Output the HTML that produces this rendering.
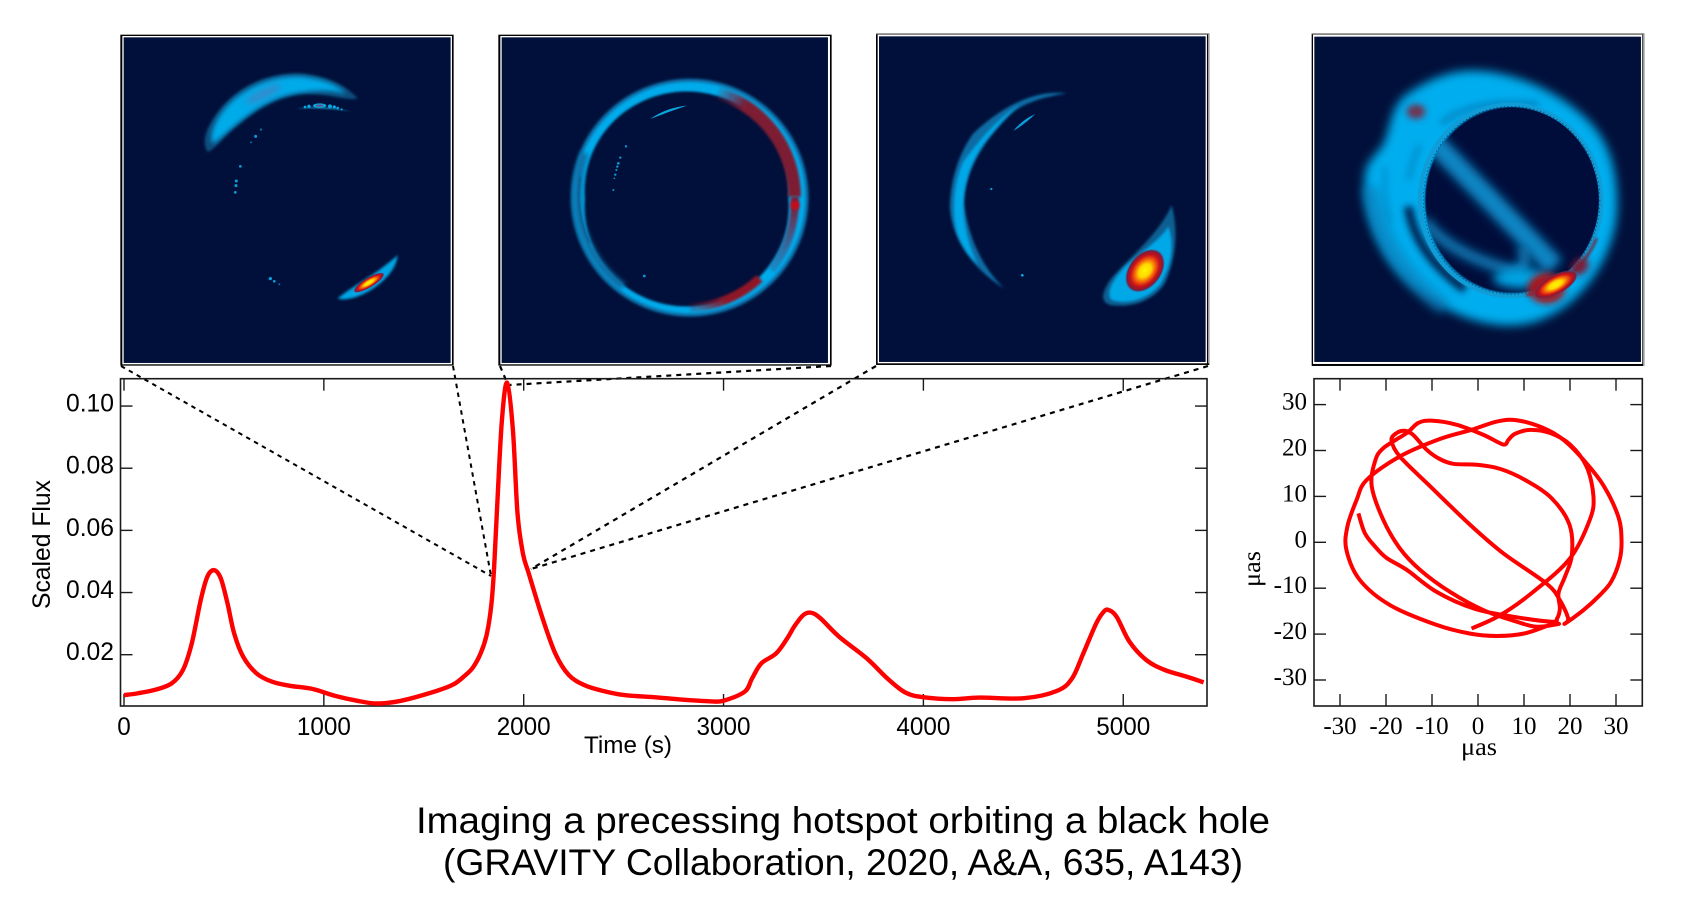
<!DOCTYPE html>
<html lang="en">
<head>
<meta charset="utf-8">
<title>Imaging a precessing hotspot orbiting a black hole</title>
<style>
html,body{margin:0;padding:0;background:#fff;}
svg{display:block;}
.sans{font-family:"Liberation Sans",sans-serif;fill:#000;}
.serif{font-family:"Liberation Serif",serif;fill:#000;}
</style>
</head>
<body>
<svg id="figure" xmlns="http://www.w3.org/2000/svg" width="1700" height="923" viewBox="0 0 1700 923">
<defs>
<filter id="b2" filterUnits="userSpaceOnUse" x="0" y="0" width="1035" height="1035"><feGaussianBlur stdDeviation="2"/></filter>
<filter id="b4" filterUnits="userSpaceOnUse" x="0" y="0" width="1035" height="1035"><feGaussianBlur stdDeviation="4"/></filter>
<filter id="b7" filterUnits="userSpaceOnUse" x="0" y="0" width="1035" height="1035"><feGaussianBlur stdDeviation="7"/></filter>
<filter id="b10" filterUnits="userSpaceOnUse" x="0" y="0" width="1035" height="1035"><feGaussianBlur stdDeviation="10"/></filter>
<filter id="b14" filterUnits="userSpaceOnUse" x="0" y="0" width="1035" height="1035"><feGaussianBlur stdDeviation="14"/></filter>
<radialGradient id="hot">
<stop offset="0" stop-color="#fff600"/>
<stop offset="0.3" stop-color="#ffd800"/>
<stop offset="0.52" stop-color="#f4600c"/>
<stop offset="0.72" stop-color="#c81018"/>
<stop offset="0.9" stop-color="#7c1c3c"/>
<stop offset="1" stop-color="#2a6ea8" stop-opacity="0"/>
</radialGradient>
<linearGradient id="fadeTop" gradientUnits="userSpaceOnUse" x1="665" y1="180" x2="760" y2="225">
<stop offset="0" stop-color="#7a1c38" stop-opacity="0"/>
<stop offset="1" stop-color="#7d1a32"/>
</linearGradient>
<linearGradient id="fadeRight" gradientUnits="userSpaceOnUse" x1="905" y1="520" x2="840" y2="720">
<stop offset="0" stop-color="#7a1c38"/>
<stop offset="1" stop-color="#2c6aa6" stop-opacity="0.5"/>
</linearGradient>
<linearGradient id="fadeBottom" gradientUnits="userSpaceOnUse" x1="570" y1="830" x2="700" y2="805">
<stop offset="0" stop-color="#8a1528" stop-opacity="0"/>
<stop offset="1" stop-color="#8f1426"/>
</linearGradient>
<clipPath id="inner1"><rect x="26" y="22" width="981" height="977"/></clipPath>
<clipPath id="hole4"><ellipse cx="622" cy="510" rx="262" ry="280"/></clipPath>
</defs>

<!-- Panel 1 -->
<g transform="translate(115 30) scale(0.3333)">
<rect x="16" y="14" width="1000" height="993" fill="#000"/>
<rect x="22" y="18" width="989" height="985" fill="#fff"/>
<rect x="26" y="22" width="981" height="977" fill="#01103a"/>
<g clip-path="url(#inner1)">
<path d="M278 366C260 340 268 305 300 258C345 190 430 132 540 130C620 130 695 165 728 205C700 214 650 192 565 192C470 200 410 250 345 305C320 328 300 358 278 366Z" fill="#074c7c" filter="url(#b4)"/>
<path d="M292 340C282 310 305 258 350 215C405 165 480 136 560 140C620 146 672 165 692 192C650 180 610 180 560 187C470 197 405 248 345 298C325 315 305 335 292 340Z" fill="#03abea" filter="url(#b7)"/>
<ellipse cx="445" cy="192" rx="60" ry="12" transform="rotate(-26 445 192)" fill="#3a86c8" filter="url(#b10)"/>
<path d="M545 237Q615 222 710 245Q615 232 545 237Z" fill="#0a78ae" filter="url(#b2)"/>
<g fill="#07a7e2">
<circle cx="570" cy="231" r="4"/><circle cx="582" cy="229" r="5"/><circle cx="645" cy="229" r="6"/><circle cx="658" cy="231" r="5"/><circle cx="668" cy="234" r="4"/><circle cx="680" cy="238" r="3"/>
</g>
<ellipse cx="614" cy="227" rx="20" ry="7" fill="#07a7e2"/>
<ellipse cx="614" cy="227" rx="12" ry="3.5" fill="#5c5a8e"/>
<g fill="#07a0dc">
<circle cx="438" cy="299" r="3.5" fill="#0a6ca3"/><circle cx="422" cy="319" r="4.5"/><circle cx="408" cy="337" r="3" fill="#0a6ca3"/><circle cx="376" cy="409" r="4"/><circle cx="364" cy="453" r="4.5"/><circle cx="363" cy="467" r="4.5"/><circle cx="361" cy="487" r="4"/><circle cx="466" cy="746" r="5"/><circle cx="478" cy="754" r="4"/><circle cx="493" cy="763" r="3" fill="#0a6ca3"/>
</g>
<path d="M668 806C705 772 775 740 848 676C845 720 800 765 750 790C720 805 690 812 668 806Z" fill="#05a4e4" filter="url(#b4)"/>
<ellipse cx="762" cy="758" rx="54" ry="15" transform="rotate(-31 762 758)" fill="url(#hot)"/>
</g>
</g>

<!-- Panel 2 -->
<g transform="translate(493 30) scale(0.3333)">
<rect x="16" y="14" width="1000" height="993" fill="#000"/>
<rect x="22" y="18" width="989" height="985" fill="#fff"/>
<rect x="26" y="22" width="979" height="977" fill="#01103a"/>
<path fill-rule="evenodd" d="M233 503A357 357 0 1 0 947 503A357 357 0 1 0 233 503ZM272 507A310 302 0 1 1 890 507A310 302 0 1 1 272 507Z" fill="#0a6ea8" filter="url(#b4)"/>
<path fill-rule="evenodd" d="M243 503A347 347 0 1 0 937 503A347 347 0 1 0 243 503ZM275 507A307 299 0 1 1 887 507A307 299 0 1 1 275 507Z" fill="#02abeb" filter="url(#b4)"/>
<path d="M275 370A325 330 0 0 0 255 480A325 330 0 0 0 390 770" fill="none" stroke="#0a6ea6" stroke-width="24" filter="url(#b7)"/>
<path d="M262 440A325 330 0 0 0 290 640" fill="none" stroke="#0a4f84" stroke-width="3" filter="url(#b2)"/>
<path d="M675 190A322 325 0 0 1 905 500" fill="none" stroke="url(#fadeTop)" stroke-width="38" filter="url(#b4)"/>
<path d="M905 500A322 325 0 0 1 835 720" fill="none" stroke="url(#fadeRight)" stroke-width="24" filter="url(#b4)"/>
<path d="M800 745A322 325 0 0 1 590 832" fill="none" stroke="url(#fadeBottom)" stroke-width="26" filter="url(#b4)"/>
<circle cx="906" cy="526" r="14" fill="#c40c1c" filter="url(#b4)"/>
<path d="M472 267Q520 233 582 227Q525 246 472 267Z" fill="#0aa6e0"/>
<g fill="#079bd8">
<circle cx="399" cy="349" r="3.5"/><circle cx="382" cy="383" r="3.5"/><circle cx="376" cy="400" r="4"/><circle cx="373" cy="410" r="3.5"/><circle cx="370" cy="420" r="3"/><circle cx="367" cy="434" r="3.5"/><circle cx="364" cy="445" r="2.5"/><circle cx="361" cy="480" r="3"/><circle cx="454" cy="738" r="4"/>
</g>
</g>

<!-- Panel 3 -->
<g transform="translate(870 30) scale(0.3333)">
<rect x="18" y="10" width="1000" height="995" fill="#000"/>
<rect x="18" y="10" width="1000" height="3" fill="#9a9a9a"/>
<rect x="1014" y="10" width="4" height="990" fill="#9a9a9a"/>
<rect x="23" y="14" width="988" height="986" fill="#fff"/>
<rect x="27" y="19" width="980" height="977" fill="#01103a"/>
<path d="M590 190C500 178 400 225 310 310C255 385 238 480 240 540C250 640 320 725 402 775C340 715 295 625 282 520C284 410 360 310 430 245C480 210 540 198 590 190Z" fill="#0a6ca4" filter="url(#b4)"/>
<path d="M450 225C400 250 335 320 280 395C250 460 244 550 262 610C280 660 310 690 325 705C300 660 280 590 280 520C284 430 320 360 370 305C395 275 420 248 450 225Z" fill="#03a8e8" filter="url(#b4)"/>
<path d="M430 303Q455 270 496 252Q465 282 430 303Z" fill="#0a9fdc"/>
<circle cx="364" cy="477" r="3.5" fill="#079bd8"/>
<circle cx="457" cy="736" r="4" fill="#07b0ee"/>
<path d="M905 525C922 590 925 670 885 760C850 815 780 835 720 825C690 815 695 790 720 750C770 690 870 610 905 525Z" fill="#0a5e92" filter="url(#b4)"/>
<path d="M895 590C915 640 905 710 870 765C830 810 770 825 725 810C705 790 730 745 770 705C815 665 870 630 895 590Z" fill="#05a8e8" filter="url(#b4)"/>
<ellipse cx="825" cy="722" rx="74" ry="50" transform="rotate(-52 825 722)" fill="url(#hot)"/>
</g>

<!-- Panel 4 -->
<g transform="translate(1305 30) scale(0.3333)">
<rect x="20" y="10" width="998" height="998" fill="#000"/>
<rect x="20" y="10" width="998" height="3" fill="#9a9a9a"/>
<rect x="1014" y="10" width="4" height="998" fill="#9a9a9a"/>
<rect x="24" y="14" width="988" height="988" fill="#fff"/>
<rect x="28" y="20" width="980" height="976" fill="#01103a"/>
<path d="M500 122C625 122 770 185 860 282C930 360 942 470 935 560C918 708 800 870 640 885C500 898 342 808 262 705C202 622 170 520 180 430C188 388 218 372 236 340C258 290 256 238 298 198C350 162 420 122 500 122Z" fill="#02adee" filter="url(#b14)"/>
<path d="M195 470Q225 690 420 835" fill="none" stroke="#0a78b4" stroke-width="50" opacity="0.6" filter="url(#b14)"/>
<path d="M240 410Q236 510 258 580" fill="none" stroke="#0a78b4" stroke-width="12" opacity="0.55" filter="url(#b10)"/>
<path d="M410 280Q500 205 700 222" fill="none" stroke="#0a6aa6" stroke-width="14" opacity="0.7" filter="url(#b10)"/>
<path d="M345 345Q320 390 312 450" fill="none" stroke="#0a6aa6" stroke-width="14" opacity="0.5" filter="url(#b10)"/>
<path d="M310 530Q330 670 480 778" fill="none" stroke="#02214f" stroke-width="26" filter="url(#b10)"/>
<ellipse cx="622" cy="510" rx="262" ry="280" fill="#01103a" filter="url(#b2)"/>
<g clip-path="url(#hole4)">
<line x1="385" y1="335" x2="750" y2="710" stroke="#0a86c4" stroke-width="62" filter="url(#b14)"/>
<path d="M355 570Q430 670 620 722Q680 722 650 650" fill="none" stroke="#0a78b4" stroke-width="34" filter="url(#b14)"/>
<ellipse cx="650" cy="745" rx="85" ry="30" fill="#05a4e4" filter="url(#b14)"/>
</g>
<ellipse cx="617" cy="511" rx="272" ry="287" fill="none" stroke="#129cd6" stroke-width="13"/>
<ellipse cx="620" cy="511" rx="265" ry="282" fill="none" stroke="#01103a" stroke-width="2" stroke-dasharray="4 7" opacity="0.7"/>
<path d="M875 625A272 287 0 0 1 665 795" fill="none" stroke="#7a1a30" stroke-width="7" filter="url(#b4)"/>
<ellipse cx="333" cy="245" rx="28" ry="22" fill="#70304f" filter="url(#b10)"/>
<ellipse cx="725" cy="775" rx="56" ry="46" fill="#a8141e" filter="url(#b10)"/>
<ellipse cx="825" cy="710" rx="30" ry="22" transform="rotate(-45 825 710)" fill="#7a1c38" filter="url(#b10)"/>
<ellipse cx="752" cy="764" rx="74" ry="30" transform="rotate(-28 752 764)" fill="url(#hot)"/>
</g>

<g id="connectors" fill="none" stroke="#000">
<line x1="121" y1="366" x2="491" y2="576" stroke-width="2" stroke-dasharray="4.5 4.5"/>
<line x1="453" y1="366" x2="491" y2="576" stroke-width="2" stroke-dasharray="4.5 4.5"/>
<line x1="500" y1="366" x2="508" y2="385" stroke-width="2.2" stroke-dasharray="5 5"/>
<line x1="831" y1="366" x2="509" y2="385" stroke-width="2.2" stroke-dasharray="5 5"/>
<line x1="876" y1="366" x2="531" y2="569" stroke-width="2.2" stroke-dasharray="5 5"/>
<line x1="1208" y1="366" x2="531" y2="569" stroke-width="2.2" stroke-dasharray="5 5"/>
</g>

<g id="flux-plot"></g>
<g id="orbit-plot"></g>

<text class="sans" x="843" y="833" font-size="37" text-anchor="middle" textLength="854" lengthAdjust="spacingAndGlyphs">Imaging a precessing hotspot orbiting a black hole</text>
<text class="sans" x="843" y="875" font-size="37" text-anchor="middle" textLength="800" lengthAdjust="spacingAndGlyphs">(GRAVITY Collaboration, 2020, A&amp;A, 635, A143)</text>
</svg>

<script>
const timeTicks = [0, 1000, 2000, 3000, 4000, 5000];
const timeTickLabels = ['0', '1000', '2000', '3000', '4000', '5000'];
const fluxTicks = [0.02, 0.04, 0.06, 0.08, 0.10];
const fluxTickLabels = ['0.02', '0.04', '0.06', '0.08', '0.10'];
const muasTicks = [-30, -20, -10, 0, 10, 20, 30];
const muasTickLabels = ['-30', '-20', '-10', '0', '10', '20', '30'];

const fluxTime = [0,71,161,239,295,339,384,417,451,484,518,551,596,663,741,830,942,1054,1165,1266,1388,1567,1650,1701,1745,1785,1815,1838,1852,1868,1891,1917,1946,1969,1996,2025,2092,2158,2225,2304,2393,2504,2661,2781,2930,3000,3106,3143,3189,3263,3319,3355,3400,3439,3485,3578,3717,3819,3911,4004,4152,4281,4504,4670,4744,4800,4865,4902,4926,4967,5031,5115,5207,5319,5402];
const fluxValue = [0.007,0.0076,0.0088,0.0108,0.0151,0.0236,0.0376,0.0451,0.0472,0.0446,0.0365,0.0269,0.0194,0.014,0.0113,0.01,0.009,0.0068,0.0052,0.0043,0.0052,0.0084,0.0105,0.013,0.0158,0.0205,0.0265,0.036,0.048,0.0687,0.0955,0.1075,0.0923,0.0655,0.0526,0.0462,0.0322,0.0204,0.0135,0.0102,0.0084,0.007,0.0063,0.0056,0.005,0.0052,0.0081,0.0124,0.0172,0.0204,0.0253,0.0292,0.0328,0.0335,0.0317,0.0258,0.0188,0.0124,0.0078,0.0063,0.0057,0.0062,0.006,0.0084,0.0124,0.0204,0.0301,0.0338,0.0344,0.0322,0.0242,0.0183,0.0151,0.0129,0.0111];

const orbitX = [-26.0,-24.6,-22.4,-19.9,-15.5,-9.0,-1.0,7.0,16.0,17.2,17.8,17.5,18.9,20.4,19.9,16.0,10.2,4.8,-0.3,-5.4,-8.6,-11.2,-14.1,-15.9,-17.7,-18.8,-17.0,-10.4,-1.7,5.5,14.9,17.8,19.6,18.9,22.9,26.5,29.0,30.8,31.2,30.5,27.2,22.9,18.6,14.2,8.4,4.1,-1.4,-8.3,-17.0,-24.2,-26.4,-28.4,-28.6,-25.7,-19.1,-9.0,-1.7,4.1,9.9,15.7,17.5,12.8,8.4,1.2,-6.1,-12.6,-17.0,-20.6,-23.1,-22.4,-20.6,-15.5,-13.0,-10.1,-4.6,1.2,5.5,6.6,8.0,11.3,15.7,20.0,23.6,25.1,24.3,20.0,12.0,4.8,-1.4];
const orbitY = [6.3,2.0,-0.9,-3.4,-6.0,-10.8,-14.4,-16.1,-17.3,-16.6,-14.4,-11.1,-7.5,-2.8,3.8,9.6,13.6,16.0,16.9,17.1,18.3,20.2,23.4,24.3,23.8,22.2,18.7,12.2,3.8,-2.4,-9.0,-12.6,-16.6,-17.7,-14.8,-11.5,-8.5,-3.8,0.5,5.6,12.5,18.0,22.3,24.9,26.6,26.3,24.5,22.5,18.7,13.6,9.2,3.4,-1.7,-8.2,-13.7,-18.0,-19.9,-20.4,-19.9,-18.0,-17.8,-18.4,-17.3,-14.8,-10.8,-6.0,-1.3,4.9,12.2,17.6,20.5,23.8,26.0,26.5,25.6,23.4,21.3,22.3,23.6,24.5,23.8,21.3,16.5,10.0,4.9,-3.5,-10.8,-15.9,-18.8];

const NS = 'http://www.w3.org/2000/svg';

function xTime(t) { return 124 + 0.19985 * t; }
function yFlux(v) { return 654.7 - (v - 0.02) * 3108; }
function xMuas(v) { return 1478 + 4.6 * v; }
function yMuas(v) { return 542.3 - 4.59 * v; }

function make(tag, attrs, parent) {
  const el = document.createElementNS(NS, tag);
  for (const k in attrs) el.setAttribute(k, attrs[k]);
  parent.appendChild(el);
  return el;
}

function smoothPath(pts) {
  let d = 'M' + pts[0][0].toFixed(2) + ' ' + pts[0][1].toFixed(2);
  for (let i = 0; i < pts.length - 1; i++) {
    const p0 = pts[Math.max(i - 1, 0)];
    const p1 = pts[i];
    const p2 = pts[i + 1];
    const p3 = pts[Math.min(i + 2, pts.length - 1)];
    const c1x = p1[0] + (p2[0] - p0[0]) / 6;
    const c1y = p1[1] + (p2[1] - p0[1]) / 6;
    const c2x = p2[0] - (p3[0] - p1[0]) / 6;
    const c2y = p2[1] - (p3[1] - p1[1]) / 6;
    d += 'C' + c1x.toFixed(2) + ' ' + c1y.toFixed(2) + ' ' + c2x.toFixed(2) + ' ' + c2y.toFixed(2) + ' ' + p2[0].toFixed(2) + ' ' + p2[1].toFixed(2);
  }
  return d;
}

const fluxGroup = document.getElementById('flux-plot');
const orbitGroup = document.getElementById('orbit-plot');

/* Flux plot */
const fluxLeft = 120.5, fluxRight = 1207, plotTop = 378.7, plotBottom = 706, tickLen = 12;

const fluxFrame = make('rect', {x: fluxLeft, y: plotTop, width: fluxRight - fluxLeft, height: plotBottom - plotTop, fill: 'none', stroke: '#1a1a1a', 'stroke-width': 1.6}, fluxGroup);



timeTicks.forEach(function (t, i) {
  const x = xTime(t);
  const top = make('line', {x1: x, x2: x, y1: plotTop, y2: plotTop + tickLen, stroke: '#1a1a1a', 'stroke-width': 1.4}, fluxGroup);
  
  
  const bottom = make('line', {x1: x, x2: x, y1: plotBottom, y2: plotBottom - tickLen, stroke: '#1a1a1a', 'stroke-width': 1.4}, fluxGroup);
  
  
  const lab = make('text', {x: x, y: 735, 'font-size': 25, 'text-anchor': 'middle', class: 'sans', textLength: 13.5 * timeTickLabels[i].length, lengthAdjust: 'spacingAndGlyphs'}, fluxGroup);
  lab.textContent = timeTickLabels[i];
  
  
});

fluxTicks.forEach(function (v, i) {
  const y = yFlux(v);
  const left = make('line', {x1: fluxLeft, x2: fluxLeft + tickLen, y1: y, y2: y, stroke: '#1a1a1a', 'stroke-width': 1.4}, fluxGroup);
  
  
  const right = make('line', {x1: fluxRight, x2: fluxRight - tickLen, y1: y, y2: y, stroke: '#1a1a1a', 'stroke-width': 1.4}, fluxGroup);
  
  
  const lab = make('text', {x: 114, y: y + 5.5, 'font-size': 25, 'text-anchor': 'end', class: 'sans', textLength: 48, lengthAdjust: 'spacingAndGlyphs'}, fluxGroup);
  lab.textContent = fluxTickLabels[i];
  
  
});

const fluxLine = make('path', {d: smoothPath(fluxTime.map(function (t, i) { return [xTime(t), yFlux(fluxValue[i])]; })), fill: 'none', stroke: '#ff0000', 'stroke-width': 4.4, 'stroke-linejoin': 'round'}, fluxGroup);



const timeTitle = make('text', {x: 628, y: 753, 'font-size': 24, 'text-anchor': 'middle', class: 'sans', textLength: 88, lengthAdjust: 'spacingAndGlyphs'}, fluxGroup);
timeTitle.textContent = 'Time (s)';



const fluxTitle = make('text', {transform: 'translate(50 544.5) rotate(-90)', 'font-size': 25, 'text-anchor': 'middle', class: 'sans', textLength: 129, lengthAdjust: 'spacingAndGlyphs'}, fluxGroup);
fluxTitle.textContent = 'Scaled Flux';



/* Orbit plot */
const orbitLeft = 1314, orbitRight = 1642.3;

const orbitFrame = make('rect', {x: orbitLeft, y: plotTop, width: orbitRight - orbitLeft, height: plotBottom - plotTop, fill: 'none', stroke: '#1a1a1a', 'stroke-width': 1.6}, orbitGroup);



muasTicks.forEach(function (v, i) {
  const x = xMuas(v);
  const y = yMuas(v);
  const top = make('line', {x1: x, x2: x, y1: plotTop, y2: plotTop + tickLen, stroke: '#1a1a1a', 'stroke-width': 1.4}, orbitGroup);
  
  
  const bottom = make('line', {x1: x, x2: x, y1: plotBottom, y2: plotBottom - tickLen, stroke: '#1a1a1a', 'stroke-width': 1.4}, orbitGroup);
  
  
  const left = make('line', {x1: orbitLeft, x2: orbitLeft + tickLen, y1: y, y2: y, stroke: '#1a1a1a', 'stroke-width': 1.4}, orbitGroup);
  
  
  const right = make('line', {x1: orbitRight, x2: orbitRight - tickLen, y1: y, y2: y, stroke: '#1a1a1a', 'stroke-width': 1.4}, orbitGroup);
  
  
  const xLab = make('text', {x: x, y: 734, 'font-size': 25, 'text-anchor': 'middle', class: 'serif'}, orbitGroup);
  xLab.textContent = muasTickLabels[i];
  
  
  const yLab = make('text', {x: 1307, y: y + 5, 'font-size': 25, 'text-anchor': 'end', class: 'serif'}, orbitGroup);
  yLab.textContent = muasTickLabels[i];
  
  
});

const orbitLine = make('path', {d: smoothPath(orbitX.map(function (v, i) { return [xMuas(v), yMuas(orbitY[i])]; })), fill: 'none', stroke: '#ff0000', 'stroke-width': 4, 'stroke-linejoin': 'round'}, orbitGroup);



const orbitXTitle = make('text', {x: 1479, y: 755, 'font-size': 25, 'text-anchor': 'middle', class: 'serif', textLength: 36, lengthAdjust: 'spacingAndGlyphs'}, orbitGroup);
orbitXTitle.textContent = 'μas';



const orbitYTitle = make('text', {transform: 'translate(1260 569) rotate(-90)', 'font-size': 25, 'text-anchor': 'middle', class: 'serif', textLength: 36, lengthAdjust: 'spacingAndGlyphs'}, orbitGroup);
orbitYTitle.textContent = 'μas';


</script>
</body>
</html>
